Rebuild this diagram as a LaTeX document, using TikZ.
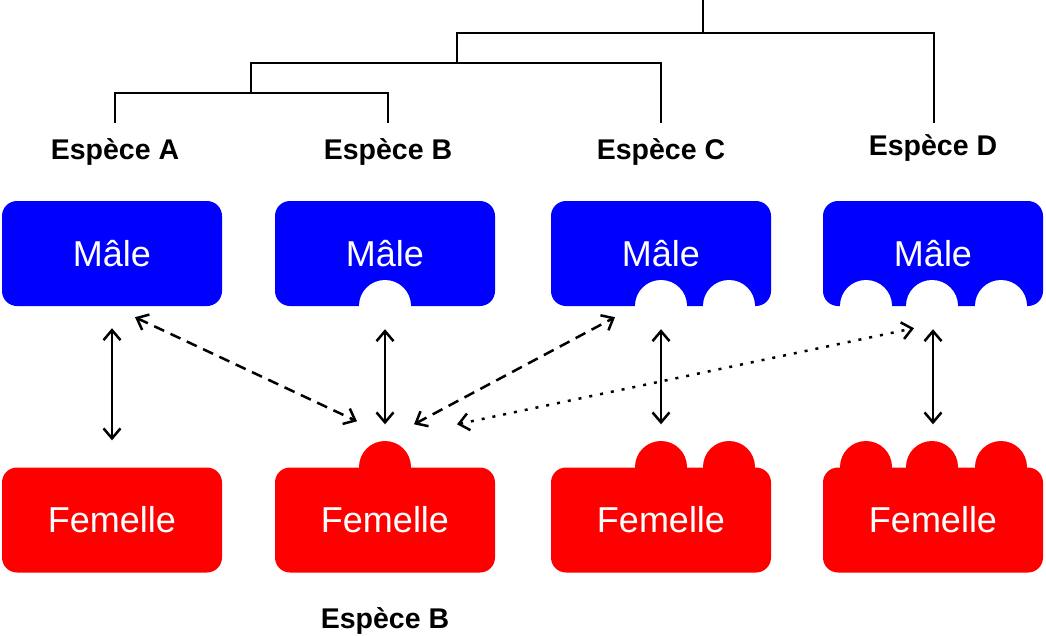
\documentclass[tikz,border=0pt]{standalone}
\usepackage{fontspec}
\setmainfont{Liberation Sans}
\usetikzlibrary{arrows.meta, calc}

\begin{document}
\begin{tikzpicture}[x=1pt, y=-1pt,
    every node/.style={inner sep=0pt},
    malebox/.style={fill=blue, rounded corners=15pt, minimum width=220pt,
                    minimum height=105pt, text=white,
                    font=\fontsize{36}{40}\selectfont},
    femalebox/.style={malebox, fill=red},
    species/.style={font=\bfseries\fontsize{28.5}{32}\selectfont, anchor=base},
    tree/.style={line width=2.8pt},
    link/.style={line width=2.5pt,
                 {Straight Barb[length=10pt,width=17pt]}-{Straight Barb[length=10pt,width=17pt]}},
    cross/.style={link, dash pattern=on 11pt off 7pt},
    weak/.style={link, dash pattern=on 3pt off 8pt}
  ]
    \useasboundingbox (0,0) rectangle (1046,635);

    % species labels
    \node[species] (lA) at (115,159) {Espèce A};
    \node[species] (lB) at (388,159) {Espèce B};
    \node[species] (lC) at (661,159) {Espèce C};
    \node[species] (lD) at (933,155) {Espèce D};
    \node[species] (lF) at (385,628) {Espèce B};

    % tree
    \draw[tree] (115,123) -- (115,93) -- (388,93) -- (388,123);
    \draw[tree] (251,93) -- (251,63) -- (661,63) -- (661,123);
    \draw[tree] (457,63) -- (457,33) -- (934,33) -- (934,123);
    \draw[tree] (703,33) -- (703,0);

    % males
    \node[malebox] (mA) at (112,253.5) {Mâle};
    \node[malebox] (mB) at (385,253.5) {Mâle};
    \node[malebox] (mC) at (661,253.5) {Mâle};
    \node[malebox] (mD) at (933,253.5) {Mâle};
    \foreach \x in {385,661,729,866,932,1001}
      \fill[white] (\x,306) circle[radius=26];

    % females
    \node[femalebox] (fA) at (112,520) {Femelle};
    \node[femalebox] (fB) at (385,520) {Femelle};
    \node[femalebox] (fC) at (661,520) {Femelle};
    \node[femalebox] (fD) at (933,520) {Femelle};
    \foreach \x in {385,661,729,866,932,1001}
      \fill[red] (\x,467) circle[radius=26];

    % mating links
    \draw[link, shorten <=22pt, shorten >=27pt] (mA) -- (fA);
    \draw[link, shorten <=23pt, shorten >=43pt] (mB) -- (fB);
    \draw[link, shorten <=23pt, shorten >=43pt] (mC) -- (fC);
    \draw[link, shorten <=23pt, shorten >=43pt] (mD) -- (fD);
    \draw[cross] ($(mA.south)+(23,11)$) -- ($(fB.north)+(-28,-46)$);
    \draw[cross] ($(fB.north)+(29,-43)$) -- ($(mC.south)+(-46,11)$);
    \draw[weak] ($(fB.north)+(72,-43)$) -- ($(mD.south)+(-19,22)$);
\end{tikzpicture}
\end{document}
